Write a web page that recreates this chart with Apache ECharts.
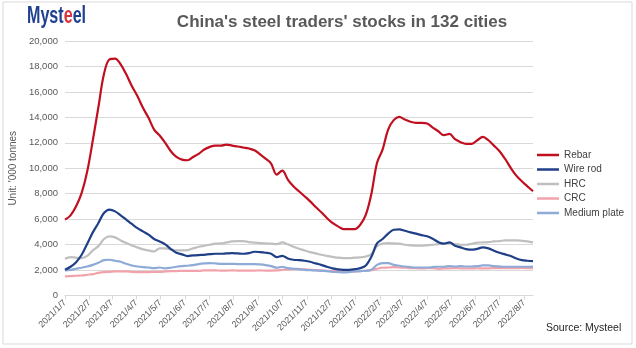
<!DOCTYPE html>
<html>
<head>
<meta charset="utf-8">
<script src="https://cdn.jsdelivr.net/npm/echarts@6/dist/echarts.min.js"></script>
<style>
html,body{margin:0;padding:0;background:#fff;}
#chart{width:636px;height:348px;}
</style>
</head>
<body>
<div id="chart"></div>
<script>
// Tick labels shown on the x axis
const tickLabels = ['2021/1/7','2021/2/7','2021/3/7','2021/4/7','2021/5/7','2021/6/7','2021/7/7','2021/8/7','2021/9/7','2021/10/7','2021/11/7','2021/12/7','2022/1/7','2022/2/7','2022/3/7','2022/4/7','2022/5/7','2022/6/7','2022/7/7','2022/8/7'];

// Weekly series values ('000 tonnes), 2021/1/7 .. 2022/8/18
const rebar = [5960,6300,7010,8060,9760,12200,14800,17400,18560,18610,18160,17380,16460,15670,14750,13960,13040,12570,11990,11340,10890,10680,10630,10890,11130,11470,11680,11780,
11780,11860,11780,11710,11630,11550,11420,11100,10760,10370,9500,9820,9110,8580,8190,7800,7400,6960,6540,6090,5700,5430,5220,5220,5220,5560,6350,8000,
10420,11470,13040,13780,14040,13830,13650,13570,13570,13520,13200,12910,12600,12700,12280,12050,11920,11920,12200,12470,12200,11780,11340,10730,10030,9420,8980,8580,8190];
const wireRod = [2020,2260,2620,3200,4070,4960,5700,6480,6750,6610,6300,5960,5620,5300,5040,4780,4440,4250,4020,3650,3360,3230,3100,3150,3180,3200,3250,3280,
3280,3310,3330,3310,3280,3330,3440,3410,3360,3280,3020,3120,2910,2810,2780,2730,2650,2520,2410,2260,2130,2050,2020,2020,2070,2150,2360,3050,
4090,4440,4860,5170,5200,5090,4960,4860,4750,4650,4460,4200,4070,4170,3910,3780,3650,3600,3670,3780,3700,3520,3360,3230,3100,2910,2780,2730,2700];
const hrc = [2890,3020,2970,2940,3120,3540,3880,4440,4650,4570,4330,4120,3940,3780,3620,3540,3460,3700,3700,3620,3540,3540,3570,3700,3830,3910,3990,4070,
4090,4170,4250,4280,4280,4200,4150,4120,4090,4070,4040,4170,4020,3830,3670,3540,3410,3310,3200,3120,3040,2970,2940,2940,2970,2990,3070,3250,
3880,4090,4120,4090,4070,3990,3940,3910,3910,3940,3990,4040,4070,4090,4040,3990,3990,4070,4150,4170,4200,4250,4280,4330,4330,4330,4300,4250,4170];
const crc = [1500,1520,1550,1570,1630,1680,1780,1840,1860,1890,1890,1890,1860,1840,1840,1840,1860,1860,1890,1920,1920,1940,1940,1940,1940,1970,1970,1970,
1960,1960,1970,1960,1950,1960,1960,1970,1960,1960,1970,2020,2050,2070,2070,2050,2020,1990,1970,1940,1920,1920,1890,1890,1890,1920,1940,1990,
2100,2180,2200,2230,2200,2180,2150,2140,2130,2140,2140,2100,2130,2130,2150,2130,2120,2130,2140,2130,2130,2150,2150,2140,2150,2150,2160,2150,2150];
const mediumPlate = [1970,2020,2100,2180,2280,2410,2570,2780,2810,2730,2650,2490,2360,2280,2230,2200,2150,2200,2130,2180,2260,2310,2340,2390,2470,2520,2550,2520,
2490,2490,2490,2470,2470,2470,2470,2440,2390,2310,2180,2260,2150,2100,2070,2020,1990,1970,1940,1920,1860,1840,1810,1840,1890,1920,1940,2020,
2410,2550,2550,2410,2340,2280,2230,2200,2200,2200,2230,2260,2260,2310,2280,2310,2280,2280,2310,2360,2360,2310,2280,2260,2260,2260,2260,2260,2280];

function fmt(d){return d.getFullYear()+'/'+(d.getMonth()+1)+'/'+d.getDate();}
// daily categories for a date-scaled axis
const days = [];
for (let i = 0; i <= 588; i++) days.push(fmt(new Date(2021, 0, 7 + i)));
// weekly observation dates
const weeks = [];
for (let i = 0; i < rebar.length; i++) weeks.push(fmt(new Date(2021, 0, 7 + 7 * i)));

const tickSet = new Set(tickLabels);
const isTick = (idx, val) => tickSet.has(val);

function mk(name, arr, color, z){
  return {
    name: name, type: 'line', data: weeks.map((w, i) => [w, arr[i]]),
    symbol: 'none', smooth: 0.35, z: z,
    lineStyle: {color: color, width: 2.2}, itemStyle: {color: color}
  };
}

const chart = echarts.init(document.getElementById('chart'), null, {renderer: 'canvas'});
chart.setOption({
  animation: false,
  backgroundColor: '#fff',
  textStyle: {fontFamily: 'Liberation Sans, Arial, sans-serif'},
  grid: {left: 62, right: 103, top: 41, bottom: 52.5, containLabel: false},
  graphic: [
    {type: 'rect', shape: {x: 3, y: 2, width: 629, height: 342}, style: {fill: 'none', stroke: '#d9d9d9', lineWidth: 1}, silent: true},
    {type: 'text', left: 27, top: 5, scaleX: 0.7, originX: 0, style: {
      text: '{b|Myst}{r|e}{b|el}',
      rich: {
        b: {fill: '#1f3f8f', fontSize: 23, fontWeight: 'bold', fontFamily: 'Liberation Sans, Arial'},
        r: {fill: '#d8323c', fontSize: 23, fontWeight: 'bold', fontFamily: 'Liberation Sans, Arial'}
      }
    }},
    {type: 'text', left: 546, top: 323, style: {text: 'Source: Mysteel', fill: '#262626', fontSize: 10.5, fontFamily: 'Liberation Sans, Arial'}}
  ],
  title: {
    text: "China's steel traders' stocks in 132 cities",
    left: 337, top: 9, textAlign: 'center',
    textStyle: {color: '#595959', fontSize: 17, fontWeight: 'bold', fontFamily: 'Liberation Sans, Arial'}
  },
  legend: {
    orient: 'vertical', left: 532, top: 145,
    icon: 'rect', itemWidth: 22, itemHeight: 2.5, itemGap: 4.5,
    textStyle: {color: '#404040', fontSize: 10, fontFamily: 'Liberation Sans, Arial'},
    data: ['Rebar', 'Wire rod', 'HRC', 'CRC', 'Medium plate']
  },
  xAxis: {
    type: 'category', data: days, boundaryGap: false,
    axisLine: {lineStyle: {color: '#d9d9d9'}},
    axisTick: {show: true, interval: isTick, length: 4, lineStyle: {color: '#d9d9d9'}},
    axisLabel: {interval: isTick, rotate: 45, fontSize: 9, color: '#595959', margin: 6},
    splitLine: {show: false}
  },
  yAxis: {
    type: 'value', min: 0, max: 20000, interval: 2000,
    name: "Unit: '000 tonnes", nameLocation: 'middle', nameGap: 39,
    nameTextStyle: {color: '#595959', fontSize: 10},
    axisLine: {show: false}, axisTick: {show: false},
    axisLabel: {fontSize: 9.5, color: '#595959', margin: 7, formatter: v => v.toLocaleString('en-US')},
    splitLine: {lineStyle: {color: '#d9d9d9'}}
  },
  series: [
    mk('Rebar', rebar, '#c00f1f', 10),
    mk('Wire rod', wireRod, '#1f3f86', 9),
    mk('HRC', hrc, '#bfbfbf', 6),
    mk('CRC', crc, '#f2a2ab', 7),
    mk('Medium plate', mediumPlate, '#8eaad6', 8)
  ]
});
</script>
</body>
</html>
